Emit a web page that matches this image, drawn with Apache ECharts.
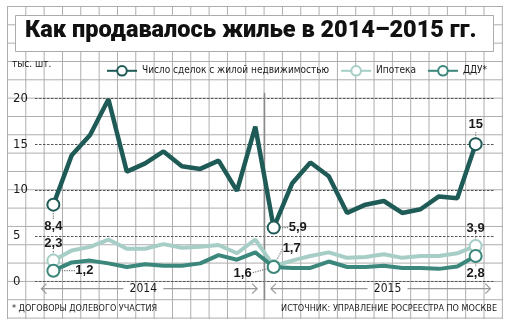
<!DOCTYPE html>
<html>
<head>
<meta charset="utf-8">
<script src="https://cdn.jsdelivr.net/npm/echarts@6/dist/echarts.min.js"></script>
<style>
  html, body { margin:0; padding:0; background:#fff; }
  #paper {
    position:absolute; left:7px; top:6px; width:496px; height:313px;
    background-image:
      linear-gradient(to right, #ababab 1px, transparent 1px),
      linear-gradient(to bottom, #ababab 1px, transparent 1px);
    background-size: 18.333px 18.333px;
  }
  #chart { position:absolute; left:0; top:0; width:509px; height:327px; }
</style>
</head>
<body>
<div id="paper"></div>
<div id="chart"></div>
<script>
// ---- data ----
const years = ['2014', '2015'];
const months = 24; // Jan 2014 .. Dec 2015
const seriesNames = ['Число сделок с жилой недвижимостью', 'Ипотека', 'ДДУ*'];
const deals    = [8.4, 13.8, 16.0, 19.9, 12.0, 12.9, 14.2, 12.6, 12.3, 13.2, 9.9, 16.9,
                  5.9, 10.7, 13.0, 11.5, 7.5, 8.4, 8.8, 7.5, 7.9, 9.3, 9.1, 15];
const mortgage = [2.3, 3.4, 3.8, 4.6, 3.6, 3.6, 4.1, 3.7, 3.8, 4.0, 3.1, 4.6,
                  1.7, 2.3, 2.8, 3.2, 2.6, 2.7, 3.0, 2.6, 2.8, 2.8, 3.1, 3.9];
const ddu      = [1.2, 2.1, 2.3, 2.0, 1.6, 1.9, 1.75, 1.75, 2.0, 2.9, 2.4, 3.2,
                  1.6, 1.5, 1.5, 2.2, 1.6, 1.6, 1.75, 1.5, 1.5, 1.4, 1.65, 2.8];
const labeledIdx = [0, 12, 23];
const yTicks = [0, 5, 10, 15, 20];

// ---- styles ----
const colors = ['#1f5b56', '#a6cec6', '#3c877b'];
const narrow = '"DejaVu Sans Condensed", sans-serif';
const labelStyle = { color:'#1a1a1a', fontFamily:'"Liberation Sans", sans-serif', fontWeight:'bold', fontSize:13 };
// label placement per series & point index: [position, distance, dx, dy]
const labelPlace = [
  { 0:['bottom', 8, 0, 0], 12:['right', 5, 3, 0], 23:['top', 6, 0, 0] },
  { 0:['top', 4, 0, 0],    12:['top', 4, 18, 0],   23:['top', 4, 0, 0] },
  { 0:['right', 5, 10, 0], 12:['left', 5, -10, 6], 23:['bottom', 4, 0, 0] }
];

function build(values, s) {
  return values.map((v, i) => {
    if (labeledIdx.indexOf(i) >= 0) {
      const p = labelPlace[s][i];
      return { value:[i, v], symbol:'emptyCircle',
        label:{ show:true, position:p[0], distance:p[1], ...labelStyle,
          formatter: (q) => String(q.value[1]).replace('.', ',') } };
    }
    return { value:[i, v], symbol:'none' };
  });
}

function mkSeries(values, s, width, z) {
  return {
    name: seriesNames[s], type:'line', data: build(values, s),
    symbol:'emptyCircle', symbolSize:12, showAllSymbol:true, z:z,
    lineStyle:{ color:colors[s], width:width },
    itemStyle:{ color:colors[s], borderWidth:3 },
    labelLine:{ show:true, lineStyle:{ type:'dotted', color:'#777', width:1.2 } },
    labelLayout: (params) => {
      const p = labelPlace[s][params.dataIndex];
      return p ? { dx:p[2], dy:p[3] } : {};
    },
    clip:false, animation:false
  };
}

const chart = echarts.init(document.getElementById('chart'), null, { renderer:'canvas' });
const option = {
  animation:false,
  grid:{ left:35, right:15, top:98.3, bottom:45.3 },
  legend:{
    data: seriesNames, left:101, top:60, width:420, itemWidth:30, itemHeight:12, itemGap:11,
    textStyle:{ fontFamily:narrow, fontSize:10, color:'#1a1a1a' }
  },
  xAxis:{ type:'value', min:-1, max:months, show:true,
    axisLine:{show:false}, axisTick:{show:false}, axisLabel:{show:false}, splitLine:{show:false} },
  yAxis:{ type:'value', min:yTicks[0], max:yTicks[yTicks.length-1], interval:5,
    axisLine:{show:false}, axisTick:{show:false},
    axisLabel:{ align:'left', margin:22, fontFamily:narrow, fontSize:13, color:'#1a1a1a', padding:[7,0,0,0] },
    splitLine:{ lineStyle:{ color:'#555', type:[2.5,1.5], width:1.2 } } },
  series:[ mkSeries(mortgage, 1, 4, 3), mkSeries(ddu, 2, 4, 4), mkSeries(deals, 0, 4.5, 5) ]
};
chart.setOption(option);

// ---- decorations positioned through the chart's scales ----
const px = (x, y) => chart.convertToPixel({ gridIndex:0 }, [x, y]);
const g = [];
// title box and texts
g.push({ type:'rect', shape:{ x:15.5, y:15.5, width:478, height:36 }, style:{ fill:'#fff', stroke:'#ababab', lineWidth:1 }, z:1 });
g.push({ type:'text', left:25, top:19, z:2, style:{ text:'Как продавалось жилье в 2014–2015 гг.', fill:'#111',
  font:'900 23.5px Roboto, "Liberation Sans", sans-serif' } });
g.push({ type:'text', left:12, top:59, z:2, style:{ text:'тыс. шт.', fill:'#1a1a1a', font:'10px ' + narrow } });
g.push({ type:'text', left:12, top:304, z:2, style:{ text:'* ДОГОВОРЫ ДОЛЕВОГО УЧАСТИЯ', fill:'#1a1a1a', font:'9px ' + narrow } });
g.push({ type:'text', right:12, top:304, z:2, style:{ text:'ИСТОЧНИК: УПРАВЛЕНИЕ РОСРЕЕСТРА ПО МОСКВЕ', fill:'#1a1a1a', font:'9px ' + narrow } });

// separator between the years
const sTop = px(11.5, 20.6), sBot = px(11.5, -2.0);
g.push({ type:'line', shape:{ x1:sTop[0], y1:sTop[1], x2:sBot[0], y2:sBot[1] }, style:{ stroke:'#8a8a8a', lineWidth:1.5 }, z:3 });

// year brackets
const yearFrom = [-0.65, 11.85], yearTo = [11.1, 23.8], yearMid = [4.9, 18.2];
years.forEach((yr, k) => {
  const a = px(yearFrom[k], 0), b = px(yearTo[k], 0), m = px(yearMid[k], 0);
  const y = a[1] + 7;
  const half = 20;
  const st = { stroke:'#999', lineWidth:1.2, fill:null };
  g.push({ type:'line', shape:{ x1:a[0], y1:y, x2:m[0]-half, y2:y }, style:st, z:3 });
  g.push({ type:'line', shape:{ x1:m[0]+half, y1:y, x2:b[0], y2:y }, style:st, z:3 });
  g.push({ type:'polyline', shape:{ points:[[a[0]+5, y-5],[a[0], y],[a[0]+5, y+5]] }, style:st, z:3 });
  g.push({ type:'polyline', shape:{ points:[[b[0]-5, y-5],[b[0], y],[b[0]-5, y+5]] }, style:st, z:3 });
  g.push({ type:'text', x:m[0], y:y, z:3, style:{ text:yr, fill:'#1a1a1a', font:'12px ' + narrow, align:'center', verticalAlign:'middle' } });
});
chart.setOption({ graphic:{ elements:g } });
</script>
</body>
</html>
